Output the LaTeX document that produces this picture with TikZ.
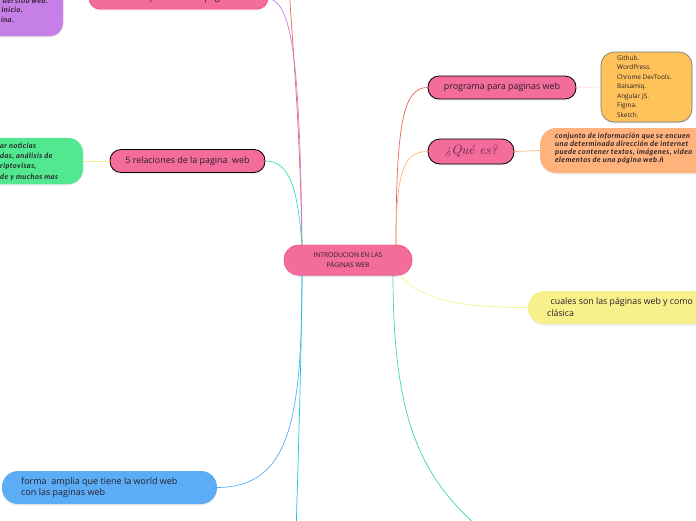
\documentclass[tikz,border=0pt]{standalone}
\usepackage{fontspec}
\newfontfamily\ui{Open Sans}
\newfontfamily\hand[LetterSpace=6]{Lato}
\usetikzlibrary{shadows}
\definecolor{pinkc}{RGB}{243,108,155}
\definecolor{purplec}{RGB}{199,127,232}
\definecolor{greenc}{RGB}{82,232,143}
\definecolor{orangec}{RGB}{255,194,90}
\definecolor{peachc}{RGB}{255,178,124}
\definecolor{yellowc}{RGB}{247,241,140}
\definecolor{bluec}{RGB}{91,174,245}
\definecolor{linered}{RGB}{240,98,90}
\definecolor{linecyan}{RGB}{23,201,214}
\definecolor{lineteal}{RGB}{62,216,160}
\definecolor{textdark}{RGB}{40,30,40}
\definecolor{queText}{RGB}{95,40,70}
\tikzset{
  base/.style={rectangle, inner sep=0pt, text=textdark,
    drop shadow={shadow xshift=0pt, shadow yshift=-1.5pt, opacity=0.15}},
  pinkpill/.style={base, fill=pinkc, draw=black, line width=0.8pt, rounded corners=11pt,
    minimum height=23pt, font=\ui\fontsize{8.9}{10}\selectfont},
  centerpill/.style={base, fill=pinkc, draw=pinkc!85!red, line width=0.5pt, rounded corners=15pt,
    minimum width=128pt, minimum height=30pt, align=center, font=\ui\fontsize{6.6}{9.5}\selectfont},
  handtext/.style={font=\hand\bfseries\itshape\fontsize{7.4}{8.2}\selectfont, text=textdark, inner sep=0pt},
  conn/.style={line width=0.7pt},
}
\begin{document}
\begin{tikzpicture}[x=1pt,y=-1pt]
\path[use as bounding box] (0,0) rectangle (696,520);
\clip (0,0) rectangle (696,520);

\node[centerpill] (c) at (348,260) {INTRODUCION EN LAS\\PÁGINAS WEB};
\coordinate (cA) at (302,246);
\coordinate (cB) at (302,274);
\coordinate (cC) at (396,246);
\coordinate (cD) at (399,274);
\coordinate (cE) at (393,274);
\coordinate (offR) at (289,-14);
\coordinate (offC) at (296,535);
\coordinate (offT) at (488,535);

% ---------- left / top nodes
\node[base, fill=purplec, draw=purplec!90!white, rounded corners=13pt,
  minimum width=110pt, minimum height=70pt] (purp) at (8,1) {};
\node[handtext, anchor=base east] (p1) at (48,3) {del sitio web.};
\node[handtext, anchor=base east] (p2) at (23,12) {inicio.};
\node[handtext, anchor=base east] (p3) at (14,22) {ína.};

\node[pinkpill, draw=pinkc!80!red, minimum width=179pt, minimum height=21pt] (top) at (178.5,-1.5)
  {elemento que llevo una pagina web};

\node[base, fill=greenc, draw=greenc!80!white, rounded corners=15pt,
  minimum width=120pt, minimum height=46pt] (green) at (23,161) {};
\node[handtext, anchor=base west] (g1) at (0,148) {ar noticias};
\node[handtext, anchor=base west] (g2) at (0,158) {das, análisis de};
\node[handtext, anchor=base west] (g3) at (0,168) {riptovisas,};
\node[handtext, anchor=base west] (g4) at (0,179) {de y muchos mas};

\node[pinkpill, minimum width=155pt] (rel) at (187.5,161) {5 relaciones de la pagina\ \ web};

\node[base, fill=bluec, rounded corners=16pt, minimum width=215pt, minimum height=33pt] (blue) at (109.5,487.5) {};
\node[anchor=west, align=left, inner sep=0pt, text=textdark, font=\ui\fontsize{9}{11}\selectfont] (bluet) at (21,487.5)
  {forma\ \ amplia que tiene la world web\\con las paginas web};

% ---------- right nodes
\node[pinkpill, minimum width=148pt] (prog) at (502,87.5) {programa para paginas web};
\node[base, fill=orangec, draw=black!55, line width=0.6pt, rounded corners=13pt,
  minimum width=91pt, minimum height=70pt] (orange) at (646.5,87) {};
\node[anchor=north west, align=left, inner sep=0pt, text=textdark, font=\ui\fontsize{6.4}{9.5}\selectfont] (ot) at (617,55)
  {Github.\\WordPress.\\Chrome DevTools.\\Balsamiq.\\Angular JS.\\Figma.\\Sketch.};

\node[pinkpill, minimum width=86pt, minimum height=25pt, rounded corners=12pt,
  font=\rmfamily\itshape\fontsize{13.5}{15}\selectfont, text=queText] (que) at (471,151.5) {¿Qué es?};
\node[base, fill=peachc, rounded corners=16pt, anchor=west, minimum width=220pt, minimum height=45pt] (peach) at (540,150.5) {};
\node[handtext, anchor=north west, align=left] (pt) at (555,132.5)
  {conjunto de información que se encuen\\una determinada dirección de internet\\puede contener textos, imágenes, video\\elementos de una página web.ñ};

\node[base, fill=yellowc, rounded corners=16pt, anchor=west, minimum width=220pt, minimum height=33pt] (yel) at (528,307.5) {};
\node[anchor=west, align=left, inner sep=0pt, text=textdark, font=\ui\fontsize{8.8}{12}\selectfont] (yelt) at (547,307.5)
  {\hspace{3.5pt}cuales son las páginas web y como\\clásica};

% ---------- connectors
\draw[conn, linered] (cA) .. controls (300,120) and (292,40) .. (offR);
\draw[conn, purplec] (cA) .. controls (300,60) and (292,2) .. (top.east);
\draw[conn, lineteal!80!cyan] (cA) .. controls (298,190) and (290,161) .. (rel.east);
\draw[conn, bluec] (cB) .. controls (302,420) and (290,487) .. (blue.east);
\draw[conn, linecyan] (cB) .. controls (301,380) and (298,460) .. (offC);
\draw[conn, yellowc] (green.east) -- (rel.west);

\draw[conn, linered] (cC) .. controls (396,120) and (404,87.5) .. (prog.west);
\draw[conn, peachc] (cC) .. controls (396,170) and (404,151.5) .. (que.west);
\draw[conn, yellowc] (cD) .. controls (420,302) and (470,307.5) .. (yel.west);
\draw[conn, lineteal] (cE) .. controls (393,420) and (420,480) .. (offT);
\draw[conn, pinkc!25] (prog.east) -- (orange.west);
\draw[conn, peachc] (que.east) -- (peach.west);

\node[centerpill] (c2) at (348,260) {INTRODUCION EN LAS\\PÁGINAS WEB};
\end{tikzpicture}
\end{document}
